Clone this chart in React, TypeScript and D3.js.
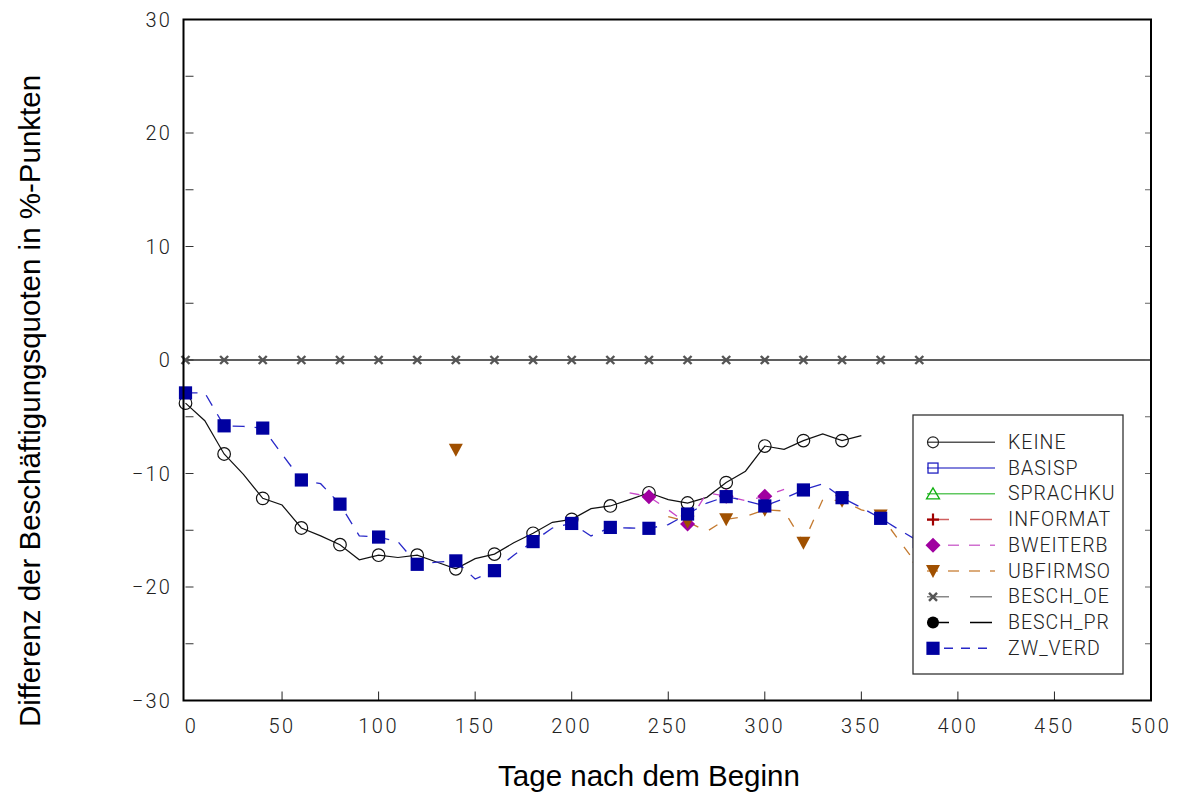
import React from "react";
import * as d3 from "d3";

// ---- data ----
const keineDays = [0,10,20,30,40,50,60,70,80,90,100,110,120,130,140,150,160,170,180,190,200,210,220,230,240,250,260,270,280,290,300,310,320,330,340,350];
const keineVals = [-3.8,-5.35,-8.28,-10.07,-12.19,-12.78,-14.8,-15.5,-16.27,-17.6,-17.2,-17.4,-17.2,-17.8,-18.4,-17.5,-17.1,-16.1,-15.27,-14.3,-14.04,-13.1,-12.86,-12.3,-11.7,-12.3,-12.6,-12.1,-10.8,-9.8,-7.58,-7.87,-7.1,-6.52,-7.1,-6.67];

const zwDays = [0,10,20,30,40,50,60,70,80,90,100,110,120,130,140,150,160,170,180,190,200,210,220,230,240,250,260,270,280,290,300,310,320,330,340,350,360,370,380];
const zwVals = [-2.9,-2.9,-5.8,-5.85,-6.0,-8.3,-10.57,-10.9,-12.7,-15.5,-15.6,-16.0,-18.0,-17.8,-17.7,-19.3,-18.56,-17.2,-16.0,-14.8,-14.4,-15.5,-14.75,-14.8,-14.83,-14.5,-13.57,-12.6,-12.04,-12.4,-12.86,-12.2,-11.45,-10.9,-12.13,-13.0,-13.95,-15.0,-16.0];

const bwDays = [230,240,250,260,270,280,290,300,310];
const bwVals = [-11.7,-12.04,-13.2,-14.45,-11.7,-12.0,-12.4,-12.0,-11.4];

const ubDays = [140,150,250,260,270,280,290,300,310,320,330,340,350,360,370,380];
const ubVals = [-7.9,NaN,-13.8,-14.25,-15.1,-14.04,-13.8,-13.2,-13.3,-16.1,-12.3,-12.4,-13.2,-13.7,-16.0,-18.3];

const oeDays = [0,20,40,60,80,100,120,140,160,180,200,220,240,260,280,300,320,340,360,380];
const oeVals = oeDays.map(() => 0);

const xTicks = [0,50,100,150,200,250,300,350,400,450,500];
const yTicks = [-30,-20,-10,0,10,20,30];
const yMinorTicks = [-25,-15,-5,5,15,25];

const legendNames = ["KEINE","BASISP","SPRACHKU","INFORMAT","BWEITERB","UBFIRMSO","BESCH_OE","BESCH_PR","ZW_VERD"];

const x = d3.scaleLinear().domain([0, 500]).range([185.5, 1151]);
const y = d3.scaleLinear().domain([-30, 30]).range([700.5, 19.5]);

type Pt = [number, number];
const zip = (a: number[], b: number[]): Pt[] => a.map((d, i) => [d, b[i]]);

const lineGen = d3
  .line<Pt>()
  .defined((d) => !isNaN(d[1]))
  .x((d) => x(d[0]))
  .y((d) => y(d[1]));

const TICKFONT = "Roboto, 'DejaVu Sans', sans-serif";

function Marker({ kind, cx, cy, color }: { kind: string; cx: number; cy: number; color: string }) {
  switch (kind) {
    case "circle":
      return <circle cx={cx} cy={cy} r={6.3} fill="none" stroke={color} strokeWidth={1.2} />;
    case "circleOpenSmall":
      return <circle cx={cx} cy={cy} r={5.5} fill="none" stroke={color} strokeWidth={1.2} />;
    case "squareOpen":
      return <rect x={cx - 5} y={cy - 5} width={10} height={10} fill="none" stroke={color} strokeWidth={1.3} />;
    case "square":
      return <rect x={cx - 6.6} y={cy - 6.6} width={13.2} height={13.2} fill={color} />;
    case "triUp":
      return <path d={`M${cx},${cy - 6} L${cx + 6.5},${cy + 5} L${cx - 6.5},${cy + 5} Z`} fill="none" stroke={color} strokeWidth={1.3} />;
    case "plus":
      return <path d={`M${cx - 6},${cy} H${cx + 6} M${cx},${cy - 6} V${cy + 6}`} stroke={color} strokeWidth={2.2} />;
    case "diamond":
      return <path d={`M${cx},${cy - 7.5} L${cx + 7.5},${cy} L${cx},${cy + 7.5} L${cx - 7.5},${cy} Z`} fill={color} />;
    case "triDown":
      return <path d={`M${cx - 7},${cy - 6} L${cx + 7},${cy - 6} L${cx},${cy + 7} Z`} fill={color} />;
    case "x":
      return <path d={`M${cx - 4},${cy - 4} L${cx + 4},${cy + 4} M${cx - 4},${cy + 4} L${cx + 4},${cy - 4}`} stroke={color} strokeWidth={2.4} />;
    case "dot":
      return <circle cx={cx} cy={cy} r={6} fill={color} />;
    default:
      return null;
  }
}

const legendStyles = [
  { marker: "circleOpenSmall", mColor: "#222", lColor: "#555", dash: "" },
  { marker: "squareOpen", mColor: "#2020c0", lColor: "#5858d0", dash: "" },
  { marker: "triUp", mColor: "#10b010", lColor: "#60c860", dash: "" },
  { marker: "plus", mColor: "#a00000", lColor: "#d06060", dash: "22,21" },
  { marker: "diamond", mColor: "#a000a0", lColor: "#d070d0", dash: "11,10" },
  { marker: "triDown", mColor: "#a05000", lColor: "#d09050", dash: "11,10" },
  { marker: "x", mColor: "#555", lColor: "#888", dash: "22,21" },
  { marker: "dot", mColor: "#000", lColor: "#000", dash: "22,21" },
  { marker: "square", mColor: "#0000a0", lColor: "#2828c8", dash: "9,8" },
];

export default function App() {
  const keine = zip(keineDays, keineVals);
  const zw = zip(zwDays, zwVals);
  const bw = zip(bwDays, bwVals);
  const ub = zip(ubDays, ubVals);
  const oe = zip(oeDays, oeVals);
  const every20 = (pts: Pt[]) => pts.filter((p) => p[0] % 20 === 0 && !isNaN(p[1]));

  return (
    <svg width={1182} height={793} style={{ position: "absolute", left: 0, top: 0, background: "#fff" }}>
      <rect x={0} y={0} width={1182} height={793} fill="#fff" />

      {/* zero line */}
      <line x1={x(0)} x2={x(500)} y1={y(0)} y2={y(0)} stroke="#2a2a2a" strokeWidth={1.4} />

      {/* ticks */}
      {xTicks.slice(1, -1).map((t) => (
        <line key={"xt" + t} x1={x(t)} x2={x(t)} y1={y(-30)} y2={y(-30) - 9} stroke="#222" strokeWidth={1} />
      ))}
      {[...yTicks.slice(1, -1), ...yMinorTicks].map((t) => (
        <g key={"yt" + t}>
          <line x1={x(0)} x2={x(0) + 8} y1={y(t)} y2={y(t)} stroke="#333" strokeWidth={1} />
          <line x1={x(500)} x2={x(500) - 6} y1={y(t)} y2={y(t)} stroke="#666" strokeWidth={1} />
        </g>
      ))}

      {/* series lines */}
      <path d={lineGen(keine) || ""} fill="none" stroke="#111" strokeWidth={1.2} />
      <path d={lineGen(bw) || ""} fill="none" stroke="#c848c8" strokeWidth={1.3} strokeDasharray="10,12" />
      <path d={lineGen(ub) || ""} fill="none" stroke="#c47a30" strokeWidth={1.3} strokeDasharray="10,12" />
      <path d={lineGen(zw) || ""} fill="none" stroke="#2828c8" strokeWidth={1.3} strokeDasharray="12,10" />

      {/* markers */}
      {every20(keine).map((p, i) => (
        <Marker key={"k" + i} kind="circle" cx={x(p[0])} cy={y(p[1])} color="#111" />
      ))}
      {every20(bw).map((p, i) => (
        <Marker key={"b" + i} kind="diamond" cx={x(p[0])} cy={y(p[1])} color="#a000a0" />
      ))}
      {every20(ub).map((p, i) => (
        <Marker key={"u" + i} kind="triDown" cx={x(p[0])} cy={y(p[1])} color="#a05000" />
      ))}
      {oe.map((p, i) => (
        <Marker key={"o" + i} kind="x" cx={x(p[0])} cy={y(p[1])} color="#555" />
      ))}
      {every20(zw).map((p, i) => (
        <Marker key={"z" + i} kind="square" cx={x(p[0])} cy={y(p[1])} color="#0000a0" />
      ))}

      {/* frame */}
      <rect x={183.5} y={y(30)} width={x(500) - 183.5} height={y(-30) - y(30)} fill="none" stroke="#000" strokeWidth={2} />

      {/* tick labels */}
      {xTicks.map((t, i) => (
        <text key={"xl" + t} x={i === 0 ? x(t) + 6 : x(t)} y={726} textAnchor="middle" dominantBaseline="central"
          fontFamily={TICKFONT} fontWeight={300} fontSize={20} letterSpacing={2.5} fill="#222">
          {d3.format("d")(t)}
        </text>
      ))}
      {yTicks.map((t) => (
        <text key={"yl" + t} x={172} y={y(t)} textAnchor="end" dominantBaseline="central"
          fontFamily={TICKFONT} fontWeight={300} fontSize={20} letterSpacing={2.2} fill="#222">
          {d3.format("d")(t)}
        </text>
      ))}

      {/* axis titles */}
      <text x={649} y={775} textAnchor="middle" dominantBaseline="central"
        fontFamily="'Liberation Sans', Arial, sans-serif" fontSize={29.5} fill="#000">
        Tage nach dem Beginn
      </text>
      <text transform="translate(29,401) rotate(-90)" textAnchor="middle" dominantBaseline="central"
        fontFamily="'Liberation Sans', Arial, sans-serif" fontSize={29.5} fill="#000">
        Differenz der Beschäftigungsquoten in %-Punkten
      </text>

      {/* legend */}
      <rect x={913} y={415} width={210} height={259} fill="#fff" stroke="#333" strokeWidth={1.3} />
      {legendNames.map((name, i) => {
        const s = legendStyles[i];
        const cy = 442.3 + i * 25.75;
        return (
          <g key={name}>
            <line x1={927} x2={995} y1={cy} y2={cy} stroke={s.lColor} strokeWidth={1.5}
              strokeDasharray={s.dash || undefined} />
            <Marker kind={s.marker} cx={933} cy={cy} color={s.mColor} />
            <text x={1008} y={cy} dominantBaseline="central" fontFamily={TICKFONT} fontWeight={300}
              fontSize={19.5} letterSpacing={1} fill="#222">
              {name}
            </text>
          </g>
        );
      })}
    </svg>
  );
}
